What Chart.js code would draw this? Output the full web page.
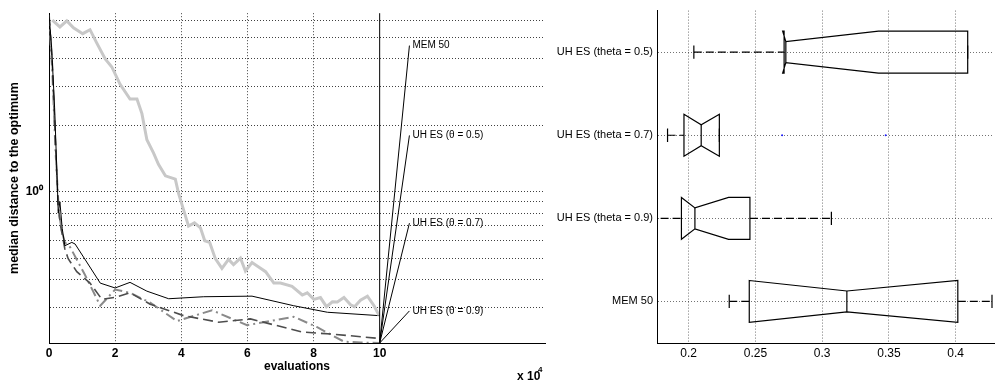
<!DOCTYPE html>
<html>
<head>
<meta charset="utf-8">
<script src="https://cdn.jsdelivr.net/npm/chart.js@4.4.0/dist/chart.umd.min.js"></script>
<style>
  html, body { margin: 0; padding: 0; background: #fff; }
  #wrap { position: relative; width: 998px; height: 386px; }
  #left { position: absolute; left: 0; top: 0; }
  #right { position: absolute; left: 530px; top: 0; }
</style>
</head>
<body>
<div id="wrap">
  <canvas id="left" width="550" height="386"></canvas>
  <canvas id="right" width="468" height="386"></canvas>
</div>
<script>
// left panel: median distance vs evaluations (x in units of 10^4)
const memEvals = [0.1, 0.33, 0.54, 0.74, 1.02, 1.24, 1.45, 1.70, 1.90, 2.15, 2.45, 2.66, 2.81, 2.96, 3.16, 3.31, 3.52, 3.82, 3.92, 4.22, 4.40, 4.58, 4.71, 4.86, 5.03, 5.23, 5.43, 5.58, 5.79, 5.94, 6.14, 6.34, 6.55, 6.80, 7.00, 7.35, 7.66, 7.81, 8.01, 8.21, 8.39, 8.57, 8.72, 8.92, 9.12, 9.24, 9.42, 9.63, 9.83, 9.98];
const memDist = [6.0, 5.59, 5.95, 5.54, 5.21, 5.43, 4.71, 4.0, 3.68, 3.07, 2.63, 2.63, 2.26, 1.72, 1.50, 1.33, 1.18, 1.14, 0.98, 0.698, 0.722, 0.686, 0.599, 0.589, 0.497, 0.449, 0.493, 0.467, 0.500, 0.437, 0.477, 0.456, 0.434, 0.385, 0.385, 0.372, 0.340, 0.348, 0.325, 0.331, 0.301, 0.317, 0.316, 0.331, 0.307, 0.301, 0.322, 0.336, 0.304, 0.275];

const uh05Evals = [0, 0.08, 0.17, 0.25, 0.28, 0.33, 0.40, 0.48, 0.69, 0.79, 1.14, 1.55, 2.0, 2.45, 2.96, 3.62, 4.68, 6.14, 7.40, 8.42, 10];
const uh05Dist = [6.4, 4.5, 2.4, 1.1, 0.80, 0.90, 0.68, 0.569, 0.589, 0.579, 0.480, 0.385, 0.366, 0.388, 0.354, 0.327, 0.334, 0.336, 0.304, 0.284, 0.274];

const uh07Evals = [0, 0.1, 0.2, 0.28, 0.35, 0.48, 0.58, 0.84, 1.24, 1.60, 2.05, 2.45, 3.06, 3.77, 4.07, 5.13, 6.09, 7.66, 8.57, 10];
const uh07Dist = [6.3, 3.8, 1.6, 0.85, 0.70, 0.55, 0.497, 0.434, 0.385, 0.325, 0.333, 0.348, 0.309, 0.284, 0.274, 0.256, 0.265, 0.231, 0.226, 0.216];

const uh09Evals = [0, 0.1, 0.2, 0.3, 0.4, 0.48, 0.64, 1.09, 1.55, 2.0, 2.45, 3.06, 3.87, 4.93, 5.99, 7.40, 8.11, 8.92, 9.42, 10];
const uh09Dist = [6.3, 3.5, 1.5, 0.8, 0.65, 0.589, 0.56, 0.419, 0.304, 0.360, 0.348, 0.314, 0.259, 0.290, 0.248, 0.271, 0.243, 0.209, 0.207, 0.206];

const seriesNames = ['MEM 50', 'UH ES (\u03b8 = 0.5)', 'UH ES (\u03b8 = 0.7)', 'UH ES (\u03b8 = 0.9)'];
const labelAnchorY = [4.6, 1.8, 0.72, 0.288];
const labelFromX = 10, labelToX = 10.9;

const evalTicks = [0, 2, 4, 6, 8, 10];
const distTicks = [0.3, 0.4, 0.5, 0.6, 0.7, 0.8, 0.9, 1, 2, 3, 4, 5, 6];
const distMin = 0.206, distMax = 6.45;

// right panel: boxplot of final distances
const boxLabels = ['UH ES (theta = 0.5)', 'UH ES (theta = 0.7)', 'UH ES (theta = 0.9)', 'MEM 50'];
const whiskerLo = [0.2039, 0.1842, 0.170, 0.2304];
const q1 = [0.2715, 0.1965, 0.1946, 0.2454];
const notchLo = [0.2704, 0.1965, 0.1946, 0.2454];
const medians = [0.2728, 0.2094, 0.2047, 0.3185];
const notchHi = [0.3422, 0.2230, 0.2299, 0.4016];
const q3 = [0.409, 0.2230, 0.2459, 0.4016];
const whiskerHi = [0.409, 0.2230, 0.3069, 0.4272];
const outlierVals = [0.2700, 0.3476];
const outlierGroup = ['UH ES (theta = 0.7)', 'UH ES (theta = 0.7)'];
const boxTicks = [0.2, 0.25, 0.3, 0.35, 0.4];

Chart.defaults.font.family = '"Liberation Sans", Arial, sans-serif';
Chart.defaults.color = '#000';

function pts(xs, ys) {
    return xs.map((v, i) => ({ x: v, y: ys[i] }));
}

// pointer lines from the end of the runs to the names
const pointerSets = seriesNames.map((name, i) => ({
    label: name,
    data: [{ x: labelFromX, y: distMin }, { x: labelToX, y: labelAnchorY[i] }],
    borderColor: '#000',
    borderWidth: 1,
    pointRadius: 0,
    isPointer: true
}));

const leftExtras = {
    id: 'leftExtras',
    afterDatasetsDraw(chart) {
        const { ctx, chartArea, scales: { x } } = chart;
        const px = x.getPixelForValue(10);
        ctx.save();
        ctx.strokeStyle = '#000';
        ctx.lineWidth = 1;
        ctx.beginPath();
        ctx.moveTo(px, chartArea.top);
        ctx.lineTo(px, chartArea.bottom);
        ctx.stroke();

        ctx.font = '10px "Liberation Sans", Arial, sans-serif';
        ctx.fillStyle = '#000';
        ctx.textAlign = 'left';
        ctx.textBaseline = 'middle';
        chart.data.datasets.forEach((ds, i) => {
            if (!ds.isPointer) return;
            const meta = chart.getDatasetMeta(i);
            const end = meta.data[meta.data.length - 1];
            ctx.fillText(ds.label, end.x + 3, end.y);
        });

        ctx.font = 'bold 12px "Liberation Sans", Arial, sans-serif';
        ctx.fillText('x 10', 517, 377);
        ctx.font = 'bold 8px "Liberation Sans", Arial, sans-serif';
        ctx.fillText('4', 538, 370);
        ctx.restore();
    }
};

new Chart(document.getElementById('left').getContext('2d'), {
    type: 'line',
    data: {
        datasets: [
            {
                label: 'MEM 50',
                data: pts(memEvals, memDist),
                borderColor: '#c8c8c8',
                borderWidth: 3,
                pointRadius: 0
            },
            {
                label: 'UH ES 0.5',
                data: pts(uh05Evals, uh05Dist),
                borderColor: '#000',
                borderWidth: 1,
                pointRadius: 0
            },
            {
                label: 'UH ES 0.7',
                data: pts(uh07Evals, uh07Dist),
                borderColor: '#4d4d4d',
                borderWidth: 1.6,
                borderDash: [10, 5],
                pointRadius: 0
            },
            {
                label: 'UH ES 0.9',
                data: pts(uh09Evals, uh09Dist),
                borderColor: '#8a8a8a',
                borderWidth: 2,
                borderDash: [10, 4, 2, 4],
                pointRadius: 0
            },
            ...pointerSets
        ]
    },
    options: {
        responsive: false,
        animation: false,
        layout: { padding: { top: 5, right: 5, left: 0, bottom: 0 } },
        plugins: { legend: { display: false }, tooltip: { enabled: false } },
        scales: {
            x: {
                type: 'linear',
                min: 0,
                max: 15,
                afterBuildTicks: s => { s.ticks = evalTicks.map(v => ({ value: v })); },
                afterFit: s => { s.height = 43; },
                ticks: {
                    autoSkip: false,
                    maxRotation: 0,
                    padding: 3,
                    font: { size: 12, weight: 'bold' }
                },
                grid: {
                    drawTicks: false,
                    color: c => (c.tick && (c.tick.value === 0 || c.tick.value === 10)) ? 'rgba(0,0,0,0)' : 'rgba(0,0,0,0.75)',
                    lineWidth: 1
                },
                border: { display: true, color: '#000', width: 1, dash: [1, 2] },
                title: {
                    display: true,
                    text: 'evaluations',
                    font: { size: 12, weight: 'bold' },
                    padding: { top: 0, bottom: 12 }
                }
            },
            y: {
                type: 'logarithmic',
                min: distMin,
                max: distMax,
                afterBuildTicks: s => { s.ticks = distTicks.map(v => ({ value: v })); },
                afterFit: s => { s.width = 49; },
                ticks: {
                    autoSkip: false,
                    padding: 6,
                    font: { size: 12, weight: 'bold' },
                    callback: v => (v === 1 ? '10\u2070' : '')
                },
                grid: {
                    drawTicks: false,
                    color: 'rgba(0,0,0,0.75)',
                    lineWidth: 1
                },
                border: { display: true, color: '#000', width: 1, dash: [1, 2] },
                title: {
                    display: true,
                    text: 'median distance to the optimum',
                    font: { size: 12.5, weight: 'bold' },
                    padding: { top: 7, bottom: 0 }
                }
            }
        }
    },
    plugins: [leftExtras]
});

// notched boxes drawn through the right panel's scales
const notchedBoxes = {
    id: 'notchedBoxes',
    afterDatasetsDraw(chart) {
        const { ctx, chartArea, scales: { x, y } } = chart;
        const unit = Math.abs(y.getPixelForValue(1) - y.getPixelForValue(0));
        const hb = unit * 0.252, hn = unit * 0.126, hc = unit * 0.08;
        const X = v => x.getPixelForValue(v);
        ctx.save();
        ctx.beginPath();
        ctx.rect(chartArea.left, chartArea.top - 2, chartArea.right - chartArea.left + 2, chartArea.bottom - chartArea.top + 2);
        ctx.clip();
        ctx.strokeStyle = '#000';
        ctx.lineWidth = 1.2;
        boxLabels.forEach((lab, i) => {
            const cy = y.getPixelForValue(i);
            // whiskers
            ctx.setLineDash([8, 4]);
            ctx.beginPath();
            if (whiskerLo[i] < q1[i]) { ctx.moveTo(X(whiskerLo[i]), cy); ctx.lineTo(X(q1[i]), cy); }
            if (whiskerHi[i] > q3[i]) { ctx.moveTo(X(q3[i]), cy); ctx.lineTo(X(whiskerHi[i]), cy); }
            ctx.stroke();
            ctx.setLineDash([]);
            // caps
            ctx.beginPath();
            ctx.moveTo(X(whiskerLo[i]), cy - hc); ctx.lineTo(X(whiskerLo[i]), cy + hc);
            ctx.moveTo(X(whiskerHi[i]), cy - hc); ctx.lineTo(X(whiskerHi[i]), cy + hc);
            ctx.stroke();
            // box with notch
            ctx.beginPath();
            ctx.moveTo(X(q1[i]), cy - hb);
            ctx.lineTo(X(notchLo[i]), cy - hb);
            ctx.lineTo(X(medians[i]), cy - hn);
            ctx.lineTo(X(notchHi[i]), cy - hb);
            ctx.lineTo(X(q3[i]), cy - hb);
            ctx.lineTo(X(q3[i]), cy + hb);
            ctx.lineTo(X(notchHi[i]), cy + hb);
            ctx.lineTo(X(medians[i]), cy + hn);
            ctx.lineTo(X(notchLo[i]), cy + hb);
            ctx.lineTo(X(q1[i]), cy + hb);
            ctx.closePath();
            ctx.stroke();
            // median
            ctx.beginPath();
            ctx.moveTo(X(medians[i]), cy - hn);
            ctx.lineTo(X(medians[i]), cy + hn);
            ctx.stroke();
        });
        ctx.restore();
    }
};

new Chart(document.getElementById('right').getContext('2d'), {
    type: 'scatter',
    data: {
        datasets: [{
            label: 'outliers',
            data: outlierVals.map((v, i) => ({ x: v, y: outlierGroup[i] })),
            pointRadius: 1,
            pointBorderWidth: 0,
            backgroundColor: '#2020ff',
            borderColor: '#2020ff'
        }]
    },
    options: {
        responsive: false,
        animation: false,
        layout: { padding: { top: 5, right: 0, left: 0, bottom: 0 } },
        plugins: { legend: { display: false }, tooltip: { enabled: false } },
        scales: {
            x: {
                type: 'linear',
                min: 0.1763,
                max: 0.4287,
                afterBuildTicks: s => { s.ticks = boxTicks.map(v => ({ value: v })); },
                afterFit: s => { s.height = 43; },
                ticks: {
                    autoSkip: false,
                    maxRotation: 0,
                    padding: 3,
                    font: { size: 12 },
                    callback: v => String(v)
                },
                grid: { drawTicks: false, color: 'rgba(0,0,0,0.55)', lineWidth: 1 },
                border: { display: true, color: '#000', width: 1, dash: [1, 2] }
            },
            y: {
                type: 'category',
                labels: boxLabels,
                offset: true,
                afterFit: s => { s.width = 127; },
                ticks: {
                    autoSkip: false,
                    padding: 4,
                    font: { size: 11 }
                },
                grid: { offset: false, drawTicks: false, color: 'rgba(0,0,0,0.55)', lineWidth: 1 },
                border: { display: true, color: '#000', width: 1, dash: [1, 2] }
            }
        }
    },
    plugins: [notchedBoxes]
});
</script>
</body>
</html>
